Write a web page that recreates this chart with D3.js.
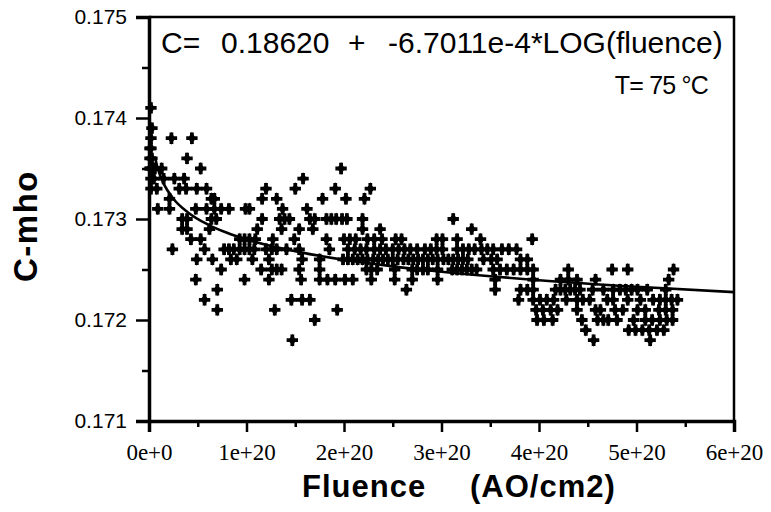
<!DOCTYPE html>
<html>
<head>
<meta charset="utf-8">
<script src="https://cdn.jsdelivr.net/npm/d3@7"></script>
<style>
  body { margin: 0; background: #fff; }
  svg { display: block; }
</style>
</head>
<body>
<script>
// Conductance levels (C-mho) and the fluences (x 1e20 AO/cm2) seen at each level
const levels = [
  0.1741, 0.1739, 0.1738, 0.1737, 0.1736, 0.1735, 0.1734, 0.1733, 0.1732, 0.1731,
  0.1730, 0.1729, 0.1728, 0.1727, 0.1726, 0.1725, 0.1724, 0.1723, 0.1722, 0.1721,
  0.1720, 0.1719, 0.1718
];
const fluenceAtLevel = [
  [0.02],
  [0.03],
  [0.02, 0.23, 0.44],
  [0.01, 0.02],
  [0.01, 0.03, 0.39],
  [0.01, 0.02, 0.04, 0.06, 0.13, 0.53, 1.97],
  [0.02, 0.05, 0.15, 0.26, 0.36, 1.58],
  [0.02, 0.08, 0.31, 0.38, 0.49, 0.59, 1.2, 1.5, 1.91, 2.27],
  [0.21, 0.64, 0.67, 1.16, 1.31, 1.78, 2.02, 2.21],
  [0.09, 0.21, 0.48, 0.59, 0.67, 0.74, 0.82, 0.99, 1.03, 1.37, 1.62],
  [0.34, 0.39, 0.64, 0.69, 1.16, 1.34, 1.39, 1.44, 1.65, 1.7, 1.82, 1.87, 1.92, 1.98, 2.03, 2.19, 3.12],
  [0.34, 0.39, 0.62, 1.11, 1.36, 1.54, 1.68, 2.19, 2.37, 3.31],
  [0.43, 0.53, 0.93, 0.98, 1.03, 1.09, 1.27, 1.49, 1.82, 2.0, 2.06, 2.12, 2.24, 2.31, 2.39, 2.53, 2.59,
   2.95, 3.01, 3.16, 3.4, 3.93],
  [0.24, 0.57, 0.77, 0.82, 0.87, 0.93, 0.98, 1.03, 1.08, 1.2, 1.26, 1.31, 1.41, 1.54, 1.85, 2.04, 2.11,
   2.17, 2.23, 2.31, 2.37, 2.43, 2.5, 2.56, 2.62, 2.68, 2.75, 2.83, 2.89, 2.95, 3.01, 3.16, 3.22, 3.28,
   3.34, 3.41, 3.47, 3.53, 3.62, 3.69, 3.77],
  [0.49, 0.65, 0.84, 0.9, 1.06, 1.23, 1.57, 1.75, 1.99, 2.04, 2.09, 2.14, 2.19, 2.24, 2.3, 2.35, 2.4,
   2.45, 2.5, 2.55, 2.61, 2.66, 2.71, 2.76, 2.81, 2.86, 2.91, 2.96, 3.02, 3.07, 3.12, 3.17, 3.22, 3.27,
   3.43, 3.51, 3.57, 3.81, 3.88],
  [0.74, 1.15, 1.26, 1.31, 1.36, 1.54, 1.75, 2.23, 2.28, 2.34, 2.52, 2.7, 2.75, 2.81, 2.86, 2.96, 3.11,
   3.16, 3.21, 3.26, 3.31, 3.36, 3.53, 3.6, 3.67, 3.74, 3.81, 3.88, 3.94, 4.3, 4.75, 4.91, 5.38],
  [0.48, 0.98, 1.23, 1.56, 1.75, 1.83, 1.91, 2.01, 2.09, 2.28, 2.52, 2.7, 2.96, 3.55, 3.94, 4.22, 4.3,
   4.39, 4.58, 5.33],
  [0.7, 2.64, 3.55, 3.81, 3.88, 3.94, 4.17, 4.22, 4.27, 4.32, 4.37, 4.42, 4.55, 4.66, 4.76, 4.83, 4.89,
   4.95, 5.01, 5.11, 5.3],
  [0.57, 1.46, 1.57, 1.65, 3.79, 3.94, 4.01, 4.08, 4.15, 4.28, 4.39, 4.45, 4.52, 4.7, 4.76, 4.91, 5.04,
   5.17, 5.24, 5.3, 5.36, 5.42],
  [0.7, 1.29, 1.93, 3.97, 4.04, 4.12, 4.19, 4.39, 4.58, 4.63, 4.78, 4.86, 5.01, 5.09, 5.23, 5.3, 5.37],
  [1.7, 3.98, 4.05, 4.14, 4.44, 4.6, 4.66, 4.71, 4.8, 4.97, 5.09, 5.16, 5.24, 5.31, 5.37],
  [4.48, 4.92, 4.99, 5.06, 5.13, 5.21, 5.28],
  [1.47, 4.56, 5.14]
];

// Fitted curve (x 1e20 AO/cm2, C-mho)
const fitFluence = [0.06, 0.1, 0.15, 0.25, 0.4, 0.6, 0.8, 1.0, 1.5, 2, 2.5, 3, 4, 5, 6];
const fitC = [0.173617, 0.173468, 0.17335, 0.173201, 0.173065, 0.172947, 0.172863, 0.172798,
  0.17268, 0.172596, 0.172531, 0.172478, 0.172394, 0.172329, 0.172276];

const yTicks = [0.171, 0.172, 0.173, 0.174, 0.175];
const yMinorTicks = [0.1715, 0.1725, 0.1735, 0.1745];
const xTicks = [0, 1e20, 2e20, 3e20, 4e20, 5e20, 6e20];
const xTickLabels = ['0e+0', '1e+20', '2e+20', '3e+20', '4e+20', '5e+20', '6e+20'];
const xMinorTicks = [0.5e20, 1.5e20, 2.5e20, 3.5e20, 4.5e20, 5.5e20];

const width = 771;
const height = 512;
const plotLeft = 149, plotRight = 734, plotTop = 17, plotBottom = 421;

const svg = d3
  .select('body')
  .append('svg')
  .attr('width', width)
  .attr('height', height);

const x = d3.scaleLinear().domain([0, 6e20]).range([plotLeft, plotRight]);
const y = d3.scaleLinear().domain([0.171, 0.175]).range([plotBottom, plotTop]);

// points
const points = [];
levels.forEach((c, i) => fluenceAtLevel[i].forEach((f) => points.push([f * 1e20, c])));

// plus sign merged with a diamond, as in the scanned plot
const marker =
  d3.symbol().type(d3.symbolCross).size(72)() +
  d3.symbol().type(d3.symbolDiamond).size(48)();

svg
  .append('g')
  .selectAll('path')
  .data(points)
  .enter()
  .append('path')
  .attr('d', marker)
  .attr('transform', (d) => `translate(${x(d[0])},${y(d[1])})`)
  .attr('fill', '#000');

// fitted curve
const line = d3
  .line()
  .x((d, i) => x(fitFluence[i] * 1e20))
  .y((d) => y(d))
  .curve(d3.curveMonotoneX);

svg
  .append('path')
  .attr('d', line(fitC))
  .attr('fill', 'none')
  .attr('stroke', '#000')
  .attr('stroke-width', 2.6);

// frame: top and right
svg
  .append('path')
  .attr('d', `M${plotLeft},${plotTop}H${plotRight}V${plotBottom}`)
  .attr('fill', 'none')
  .attr('stroke', '#000')
  .attr('stroke-width', 2.5);

// left axis
const yAxis = d3
  .axisLeft(y)
  .tickValues(yTicks)
  .tickSize(13)
  .tickPadding(9)
  .tickFormat(d3.format('.3f'));

const gy = svg.append('g').attr('transform', `translate(${plotLeft},0)`).call(yAxis);
gy.select('.domain').attr('stroke-width', 3.5);
gy.selectAll('.tick line').attr('stroke-width', 2.5);
gy.selectAll('.tick text')
  .attr('font-family', 'Liberation Sans, Arial, sans-serif')
  .attr('font-size', 21)
  .attr('fill', '#000');

svg
  .append('g')
  .attr('transform', `translate(${plotLeft},0)`)
  .call(d3.axisLeft(y).tickValues(yMinorTicks).tickSize(7).tickFormat(''))
  .call((g) => g.select('.domain').remove())
  .selectAll('line')
  .attr('stroke-width', 2.5);

// bottom axis
const xAxis = d3
  .axisBottom(x)
  .tickValues(xTicks)
  .tickSize(11)
  .tickPadding(12)
  .tickFormat((d, i) => xTickLabels[i]);

const gx = svg.append('g').attr('transform', `translate(0,${plotBottom})`).call(xAxis);
gx.select('.domain').attr('stroke-width', 3.5);
gx.selectAll('.tick line').attr('stroke-width', 2.5);
gx.selectAll('.tick text')
  .attr('font-family', 'Liberation Serif, Times New Roman, serif')
  .attr('font-size', 23)
  .attr('fill', '#000');

svg
  .append('g')
  .attr('transform', `translate(0,${plotBottom})`)
  .call(d3.axisBottom(x).tickValues(xMinorTicks).tickSize(6).tickFormat(''))
  .call((g) => g.select('.domain').remove())
  .selectAll('line')
  .attr('stroke-width', 2.5);

// titles
svg
  .append('text')
  .attr('transform', `translate(37,226) rotate(-90)`)
  .attr('text-anchor', 'middle')
  .attr('font-family', 'Liberation Sans, Arial, sans-serif')
  .attr('font-weight', 'bold')
  .attr('font-size', 33)
  .attr('letter-spacing', 1.5)
  .text('C-mho');

svg
  .append('text')
  .attr('x', 302)
  .attr('y', 497)
  .attr('font-family', 'Liberation Sans, Arial, sans-serif')
  .attr('font-weight', 'bold')
  .attr('font-size', 31)
  .attr('letter-spacing', 1)
  .text('Fluence');

svg
  .append('text')
  .attr('x', 470)
  .attr('y', 497)
  .attr('font-family', 'Liberation Sans, Arial, sans-serif')
  .attr('font-weight', 'bold')
  .attr('font-size', 31)
  .attr('letter-spacing', 1)
  .text('(AO/cm2)');

// equation and temperature notes
const eq = svg
  .append('text')
  .attr('y', 53)
  .attr('font-family', 'Liberation Sans, Arial, sans-serif')
  .attr('font-size', 30);
eq.append('tspan').attr('x', 161).text('C=');
eq.append('tspan').attr('x', 221).text('0.18620');
eq.append('tspan').attr('x', 348).text('+');
eq.append('tspan').attr('x', 388).text('-6.7011e-4*LOG(fluence)');

svg
  .append('text')
  .attr('x', 708)
  .attr('y', 94)
  .attr('text-anchor', 'end')
  .attr('font-family', 'Liberation Sans, Arial, sans-serif')
  .attr('font-size', 25)
  .attr('letter-spacing', -0.8)
  .text('T= 75 °C');
</script>
</body>
</html>
